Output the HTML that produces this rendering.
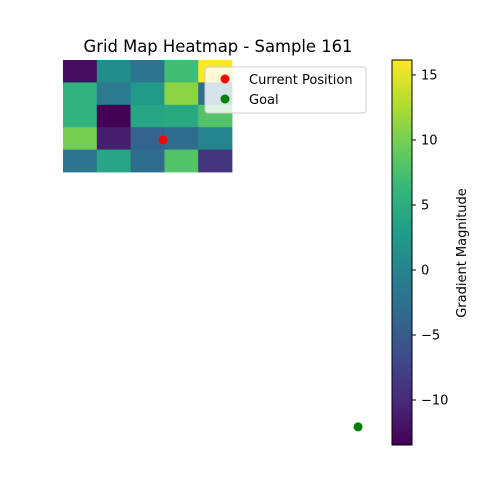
<!DOCTYPE html>
<html><head><meta charset="utf-8"><style>
body{margin:0;background:#fff;}
svg{display:block;font-family:"DejaVu Sans","Liberation Sans",sans-serif;}
</style></head><body>
<svg id="chart" width="500" height="500">
<text x="218" y="52" text-anchor="middle" font-size="16.4">Grid Map Heatmap - Sample 161</text>
<g id="cells"></g>
<g id="points"></g>
<g id="legend">
<rect x="205" y="67" width="161" height="46" rx="3" fill="#fff" fill-opacity="0.8" stroke="#ccc"/>
<circle cx="225" cy="79" r="4.5" fill="red"/>
<text x="249" y="84" font-size="13">Current Position</text>
<circle cx="225" cy="99" r="4.5" fill="green"/>
<text x="249" y="104" font-size="13">Goal</text>
</g>
<defs><linearGradient id="vir" x1="0" y1="1" x2="0" y2="0"></linearGradient></defs>
<rect x="392" y="60" width="20" height="385" fill="url(#vir)" stroke="#000" stroke-width="1"/>
<g id="cticks"></g>
<text transform="translate(466,253) rotate(-90)" text-anchor="middle" font-size="13">Gradient Magnitude</text>
</svg>
<script>
const gridValues = [
  [-12.5, 1, -2, 7, 16],
  [5.5, -1.5, 2.5, 11, -3],
  [5.5, -13.4, 4, 4.5, 8],
  [10, -11, -4, -3, 0],
  [-2, 4, -3, 8, -9]
];
const currentPos = [2.46, 3.07];
const goalPos = [8.23, 15.88];
const cbTicks = [15, 10, 5, 0, -5, -10];
const vmin = -13.46, vmax = 16.15;

const NS = "http://www.w3.org/2000/svg";
const vir = [[68,1,84],[72,40,120],[62,74,137],[49,104,142],[38,130,142],[31,158,137],[53,183,121],[109,205,89],[180,222,44],[253,231,37]];
function color(v){
  let t=(v-vmin)/(vmax-vmin); t=Math.max(0,Math.min(1,t));
  const f=t*(vir.length-1), i=Math.min(Math.floor(f),vir.length-2), r=f-i;
  const c=vir[i].map((a,k)=>Math.round(a+(vir[i+1][k]-a)*r));
  return `rgb(${c[0]},${c[1]},${c[2]})`;
}
const x0=63, y0=60, cw=33.8, ch=22.4;
const sx = d => x0 + (d+0.5)*cw;
const sy = d => y0 + (d+0.5)*ch;
const cy = v => 445 - (v-vmin)/(vmax-vmin)*385;

const cells=document.getElementById('cells');
gridValues.forEach((row,r)=>row.forEach((v,c)=>{
  const el=document.createElementNS(NS,'rect');
  el.setAttribute('x',sx(c-0.5)); el.setAttribute('y',sy(r-0.5));
  el.setAttribute('width',cw+0.4); el.setAttribute('height',ch+0.4);
  el.setAttribute('fill',color(v));
  
  
  cells.appendChild(el);
}));
const pts=document.getElementById('points');
[[currentPos,'red','current-position-marker'],[goalPos,'green','goal-marker']].forEach(([p,col,n])=>{
  const el=document.createElementNS(NS,'circle');
  el.setAttribute('cx',sx(p[0])); el.setAttribute('cy',sy(p[1])); el.setAttribute('r',4.5);
  el.setAttribute('fill',col);
  
  
  pts.appendChild(el);
});
const g=document.getElementById('vir');
vir.forEach((c,i)=>{
  const s=document.createElementNS(NS,'stop');
  s.setAttribute('offset',i/(vir.length-1));
  s.setAttribute('stop-color',`rgb(${c[0]},${c[1]},${c[2]})`);
  g.appendChild(s);
});
const ct=document.getElementById('cticks');
cbTicks.forEach(v=>{
  const y=cy(v);
  const l=document.createElementNS(NS,'line');
  l.setAttribute('x1',412); l.setAttribute('x2',416); l.setAttribute('y1',y); l.setAttribute('y2',y);
  l.setAttribute('stroke','#000');
  
  
  ct.appendChild(l);
  const t=document.createElementNS(NS,'text');
  t.setAttribute('x',421); t.setAttribute('y',y+4.5); t.setAttribute('font-size','13');
  t.textContent = v<0 ? '\u2212'+Math.abs(v) : String(v);
  
  
  ct.appendChild(t);
});
</script>
</body></html>
